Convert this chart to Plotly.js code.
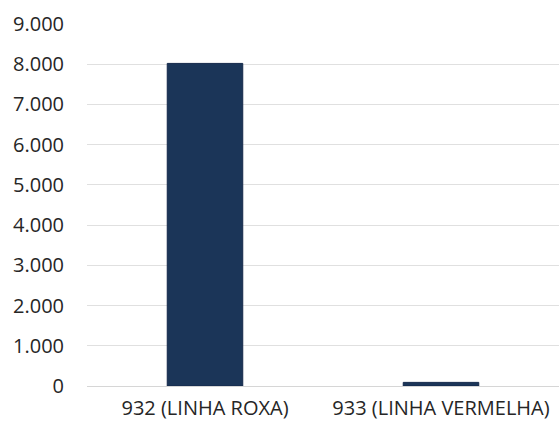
<!DOCTYPE html>
<html>
<head>
<meta charset="utf-8">
<script src="https://cdn.plot.ly/plotly-3.0.1.min.js"></script>
<style>html,body{margin:0;padding:0;background:#fff;}#chart{width:559px;height:428px;}</style>
</head>
<body>
<div id="chart"></div>
<script>
const categories = ["932 (LINHA ROXA)", "933 (LINHA VERMELHA)"];
const values = [8020, 90];
const tickVals = [0, 1000, 2000, 3000, 4000, 5000, 6000, 7000, 8000, 9000];

const trace = {
  type: "bar",
  x: categories,
  y: values,
  marker: {color: "#1b3558", line: {color: "#14284a", width: 1}},
  hoverinfo: "x+y"
};

const layout = {
  width: 559,
  height: 428,
  margin: {l: 87, r: 0, t: 24, b: 42},
  paper_bgcolor: "#ffffff",
  plot_bgcolor: "#ffffff",
  separators: ",.",
  bargap: 0.68,
  showlegend: false,
  font: {family: "Open Sans, Liberation Sans, sans-serif", color: "#262626", size: 20},
  xaxis: {
    type: "category",
    showgrid: false,
    zeroline: false,
    showline: false,
    ticks: "",
    ticklabelstandoff: 8,
    tickfont: {size: 20, color: "#262626"},
    fixedrange: true
  },
  yaxis: {
    range: [0, 9000],
    tickvals: tickVals,
    tickformat: ",d",
    showgrid: true,
    gridcolor: "#e0e0e0",
    gridwidth: 1,
    zeroline: true,
    zerolinecolor: "#d6d6d6",
    showline: false,
    ticks: "",
    ticklabelstandoff: 22,
    tickfont: {size: 20, color: "#262626"},
    fixedrange: true
  }
};

Plotly.newPlot("chart", [trace], layout, {displayModeBar: false, staticPlot: true});
</script>
</body>
</html>
